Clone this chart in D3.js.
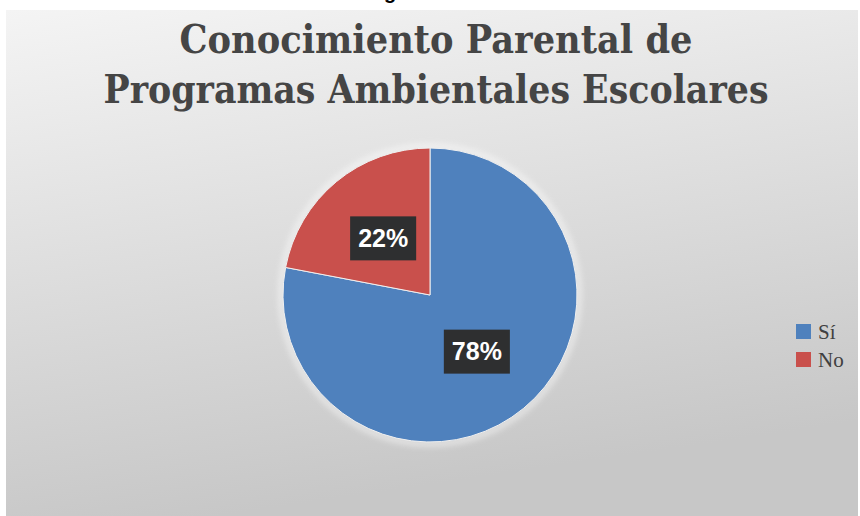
<!DOCTYPE html>
<html>
<head>
<meta charset="utf-8">
<script src="https://cdn.jsdelivr.net/npm/d3@7"></script>
<style>
  body { margin: 0; background: #fff; }
  svg { display: block; }
</style>
</head>
<body>
<svg width="860" height="516"></svg>
<script>
const width = 860,	// size of the svg
	height = 516;

// chart data
const categories = ['Sí', 'No'];
const values = [78, 22];		// percent
const colors = ['#4f81bd', '#c9504c'];
const titleLines = ['Conocimiento Parental de', 'Programas Ambientales Escolares'];

const svg = d3.select('svg');

// background gradient of the chart panel
const defs = svg.append('defs');
const grad = defs.append('linearGradient')
	.attr('id', 'bg').attr('x1', 0).attr('y1', 0).attr('x2', 0.25).attr('y2', 1);
grad.append('stop').attr('offset', '0%').attr('stop-color', '#f4f4f4');
grad.append('stop').attr('offset', '100%').attr('stop-color', '#c7c7c7');

const glow = defs.append('filter').attr('id', 'glow').attr('x', -0.1).attr('y', -0.1).attr('width', 1.2).attr('height', 1.2);
glow.append('feGaussianBlur').attr('stdDeviation', 3);

// cropped caption above the chart (only the descender shows)
svg.append('text')
	.attr('x', 384).attr('y', -1)
	.style('font-family', 'Liberation Sans, Arial, sans-serif')
	.style('font-weight', 'bold').style('font-size', '20px')
	.text('g');

svg.append('rect')
	.attr('x', 6).attr('y', 10)
	.attr('width', 852).attr('height', 506)
	.attr('fill', 'url(#bg)');

// title (condensed serif, stretched to the reference widths)
const title = svg.append('g')
	.style('font-family', '"DejaVu Serif", "Liberation Serif", serif')
	.style('font-stretch', 'condensed')
	.style('font-weight', 'bold')
	.style('font-size', '39px')
	.attr('fill', '#454545')
	.attr('text-anchor', 'middle');

const titleWidths = [513, 665];
titleLines.forEach((t, i) => {
	title.append('text')
		.attr('x', 436).attr('y', 53 + i * 50)
		.attr('textLength', titleWidths[i])
		.attr('lengthAdjust', 'spacingAndGlyphs')
		.text(t);
});

// pie
const radius = 147;
const cx = 430, cy = 295;

const pie = d3.pie().sort(null).value(d => d.value);
const arc = d3.arc().innerRadius(0).outerRadius(radius);
const data = categories.map((c, i) => ({ name: c, value: values[i], color: colors[i] }));
const arcs = pie(data);

const g = svg.append('g').attr('transform', `translate(${cx},${cy})`);

g.append('circle')
	.attr('r', radius + 2)
	.attr('fill', 'none')
	.attr('stroke', '#ffffff')
	.attr('stroke-width', 4)
	.attr('opacity', 0.7)
	.attr('filter', 'url(#glow)');

g.selectAll('path.slice')
	.data(arcs)
	.join('path')
	.attr('class', 'slice')
	.attr('d', arc)
	.attr('fill', d => d.data.color)
	.attr('stroke', '#f0f0f0')
	.attr('stroke-width', 1);

// data labels: dark boxes at slice centroids
const labels = g.selectAll('g.label')
	.data(arcs)
	.join('g')
	.attr('class', 'label')
	.attr('transform', d => `translate(${arc.centroid(d)})`);

labels.append('rect').attr('fill', '#2e2f30');
labels.append('text')
	.attr('text-anchor', 'middle')
	.attr('dy', '0.35em')
	.attr('fill', '#ffffff')
	.style('font-family', '"Liberation Sans", Arial, sans-serif')
	.style('font-weight', 'bold')
	.style('font-size', '25px')
	.text(d => d.data.value + '%');

labels.each(function() {
	const t = d3.select(this).select('text').node().getBBox();
	d3.select(this).select('rect')
		.attr('x', t.x - 8).attr('y', -22)
		.attr('width', t.width + 16).attr('height', 44);
});

// legend
const legend = svg.append('g').attr('transform', 'translate(796,324)');
const items = legend.selectAll('g')
	.data(data)
	.join('g')
	.attr('transform', (d, i) => `translate(0,${i * 28})`);

items.append('rect')
	.attr('width', 15).attr('height', 15)
	.attr('fill', d => d.color);

items.append('text')
	.attr('x', 22).attr('y', 15)
	.attr('fill', '#404040')
	.style('font-family', '"Liberation Serif", "Times New Roman", serif')
	.style('font-size', '21px')
	.text(d => d.name);
</script>
</body>
</html>
